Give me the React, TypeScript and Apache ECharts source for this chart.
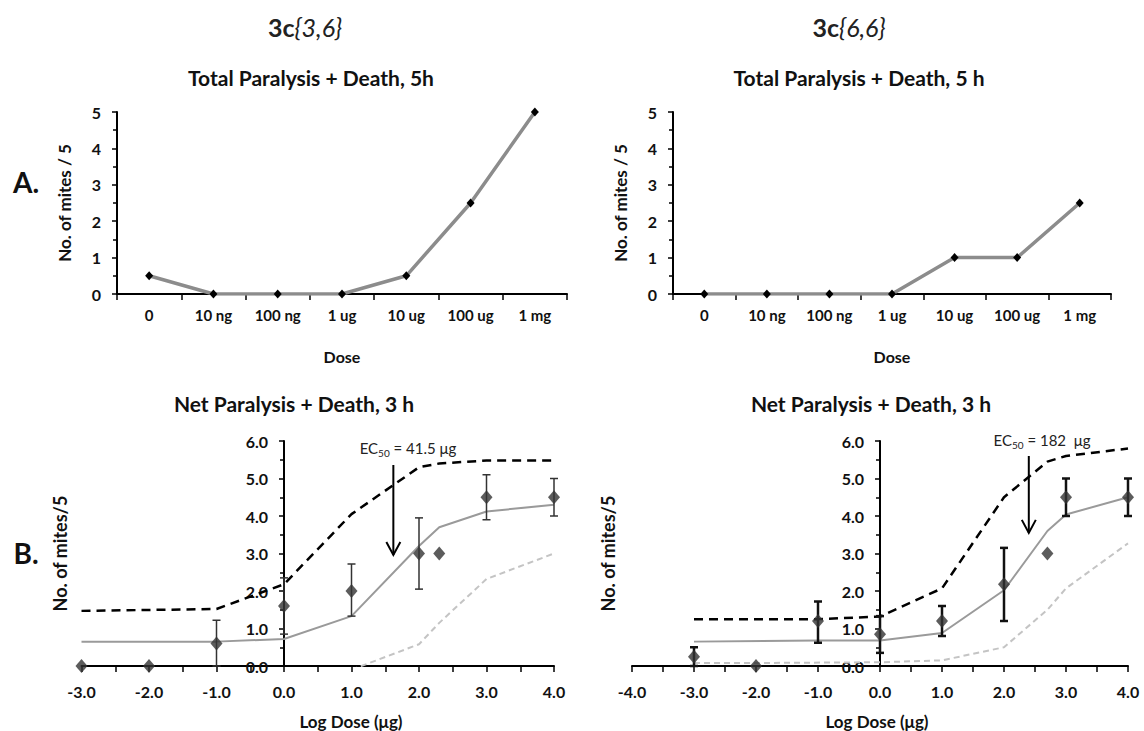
import React, { useEffect, useRef } from 'react';
import * as echarts from 'echarts';

const FONT = 'Lato, "Open Sans", sans-serif';

// ---- Panel A (total paralysis + death, 5 h) ----
const doseCategories = ['0', '10 ng', '100 ng', '1 ug', '10 ug', '100 ug', '1 mg'];
const total36 = [0.5, 0, 0, 0, 0.5, 2.5, 5];
const total66 = [0, 0, 0, 0, 1, 1, 2.5];

// ---- Panel B, 3c{3,6} (net paralysis + death, 3 h) ----
const obs36 = [[-3, 0], [-2, 0], [-1, 0.6], [0, 1.6], [1, 2.0], [2, 3.0], [2.3, 3.0], [3, 4.5], [4, 4.5]];
const err36 = [[-1, 0.6, 0, 1.22], [0, 1.6, 0.85, 2.35], [1, 2.0, 1.33, 2.72], [2, 3.0, 2.05, 3.95], [3, 4.5, 3.9, 5.1], [4, 4.5, 4.0, 5.0]];
const fit36 = [[-3, 0.65], [-1, 0.65], [0, 0.72], [1, 1.33], [2, 3.2], [2.3, 3.7], [3, 4.12], [4, 4.3]];
const upper36 = [[-3, 1.47], [-1, 1.52], [0, 2.18], [1, 4.05], [2, 5.3], [2.3, 5.4], [3, 5.48], [4, 5.48]];
const lower36 = [[1, -0.1], [2, 0.58], [2.3, 1.15], [3, 2.32], [4, 3.0]];
const arrow36 = [[1.62, 5.36, 2.96]];

// ---- Panel B, 3c{6,6} ----
const obs66 = [[-3, 0.25], [-2, 0], [-1, 1.2], [0, 0.85], [1, 1.2], [2, 2.18], [2.7, 3.0], [3, 4.5], [4, 4.5]];
const err66 = [[-3, 0.25, 0, 0.5], [-1, 1.2, 0.62, 1.72], [0, 0.85, 0.35, 1.33], [1, 1.2, 0.8, 1.6], [2, 2.18, 1.2, 3.15], [3, 4.5, 4.0, 5.0], [4, 4.5, 4.0, 5.0]];
const fit66 = [[-3, 0.65], [-1, 0.68], [0, 0.68], [1, 0.88], [2, 2.02], [2.7, 3.6], [3, 4.04], [4, 4.5]];
const upper66 = [[-3, 1.25], [-1, 1.25], [0, 1.32], [1, 2.07], [2, 4.5], [2.7, 5.45], [3, 5.6], [4, 5.8]];
const lower66 = [[-3, 0.08], [-2, 0.08], [0, 0.1], [1, 0.15], [2, 0.5], [2.7, 1.5], [3, 2.07], [4, 3.27]];
const arrow66 = [[2.4, 5.6, 3.55]];

const axisLine = { show: true, onZero: false, lineStyle: { color: '#000', width: 2 } };
const tickLine = { color: '#000', width: 1.5 };

function errorBars(data: number[][], xi: number, color: string, width: number) {
  return {
    type: 'custom',
    xAxisIndex: xi,
    yAxisIndex: xi,
    data,
    z: 4,
    renderItem: (_p: any, api: any) => {
      const x = api.value(0);
      const lo = api.coord([x, api.value(2)]);
      const hi = api.coord([x, api.value(3)]);
      const c = 4;
      const st = { stroke: color, lineWidth: width };
      return {
        type: 'group',
        children: [
          { type: 'line', shape: { x1: lo[0], y1: lo[1], x2: hi[0], y2: hi[1] }, style: st },
          { type: 'line', shape: { x1: lo[0] - c, y1: lo[1], x2: lo[0] + c, y2: lo[1] }, style: st },
          { type: 'line', shape: { x1: hi[0] - c, y1: hi[1], x2: hi[0] + c, y2: hi[1] }, style: st },
        ],
      };
    },
  };
}

function arrow(data: number[][], xi: number) {
  return {
    type: 'custom',
    xAxisIndex: xi,
    yAxisIndex: xi,
    data,
    z: 6,
    renderItem: (_p: any, api: any) => {
      const x = api.value(0);
      const top = api.coord([x, api.value(1)]);
      const tip = api.coord([x, api.value(2)]);
      const st = { stroke: '#000', lineWidth: 2, fill: null };
      return {
        type: 'group',
        children: [
          { type: 'line', shape: { x1: top[0], y1: top[1], x2: tip[0], y2: tip[1] }, style: st },
          { type: 'polyline', shape: { points: [[tip[0] - 7, tip[1] - 13], [tip[0], tip[1]], [tip[0] + 7, tip[1] - 13]] }, style: st },
        ],
      };
    },
  };
}

function curve(data: number[][], xi: number, color: string, width: number, type: any) {
  return {
    type: 'line',
    xAxisIndex: xi,
    yAxisIndex: xi,
    data,
    showSymbol: false,
    symbol: 'none',
    z: 2,
    lineStyle: { color, width, type },
  };
}

function diamonds(data: number[][], xi: number) {
  return {
    type: 'scatter',
    xAxisIndex: xi,
    yAxisIndex: xi,
    data,
    symbol: 'diamond',
    symbolSize: [12, 14],
    itemStyle: { color: '#333' },
    z: 5,
  };
}

function topAxisX(gi: number) {
  return {
    gridIndex: gi,
    type: 'category',
    data: doseCategories,
    boundaryGap: true,
    axisLine,
    axisTick: { show: true, length: 6, lineStyle: tickLine },
    axisLabel: { color: '#111', fontWeight: 'bold', fontSize: 15, fontFamily: FONT, margin: 13, interval: 0, hideOverlap: false },
    splitLine: { show: false },
    name: 'Dose',
    nameLocation: 'middle',
    nameGap: 54,
    nameMoveOverlap: false,
    nameTextStyle: { color: '#111', fontWeight: 'bold', fontSize: 16, fontFamily: FONT },
  };
}

function topAxisY(gi: number) {
  return {
    gridIndex: gi,
    type: 'value',
    min: 0,
    max: 5,
    interval: 1,
    axisLine,
    axisTick: { show: true, length: 5, lineStyle: tickLine },
    minorTick: { show: true, splitNumber: 2, length: 4, lineStyle: tickLine },
    axisLabel: { color: '#111', fontWeight: 'bold', fontSize: 16, fontFamily: FONT, margin: 16 },
    splitLine: { show: false },
    minorSplitLine: { show: false },
    name: 'No. of mites / 5',
    nameLocation: 'middle',
    nameRotate: 90,
    nameGap: 44,
    nameMoveOverlap: false,
    nameTextStyle: { color: '#111', fontWeight: 'bold', fontSize: 17, fontFamily: FONT },
  };
}

function botAxisX(gi: number, min: number) {
  return {
    gridIndex: gi,
    type: 'value',
    min,
    max: 4,
    interval: 1,
    axisLine,
    axisTick: { show: true, length: 6, lineStyle: tickLine },
    minorTick: { show: true, splitNumber: 2, length: 6, lineStyle: tickLine },
    axisLabel: { color: '#111', fontWeight: 'bold', fontSize: 16, fontFamily: FONT, margin: 17, formatter: (v: number) => v.toFixed(1) },
    splitLine: { show: false },
    minorSplitLine: { show: false },
  };
}

function botAxisY(gi: number, offset: number, gap: number) {
  return {
    gridIndex: gi,
    type: 'value',
    position: 'left',
    offset,
    min: 0,
    max: 6,
    interval: 1,
    axisLine,
    axisTick: { show: true, length: 5, lineStyle: tickLine },
    minorTick: { show: true, splitNumber: 2, length: 4, lineStyle: tickLine },
    axisLabel: { color: '#111', fontWeight: 'bold', fontSize: 16, fontFamily: FONT, margin: 16, formatter: (v: number) => v.toFixed(1) },
    splitLine: { show: false },
    minorSplitLine: { show: false },
    name: 'No. of mites/5',
    nameLocation: 'middle',
    nameRotate: 90,
    nameGap: gap,
    nameMoveOverlap: false,
    nameTextStyle: { color: '#111', fontWeight: 'bold', fontSize: 18, fontFamily: FONT },
  };
}

function txt(x: number, y: number, text: string, size: number, weight: string) {
  return {
    type: 'text',
    x,
    y,
    style: {
      text,
      fill: '#111',
      font: `${weight} ${size}px ${FONT}`,
      textAlign: 'center',
      textVerticalAlign: 'middle',
    },
  };
}

function titleRich(x: number, y: number, inner: string) {
  return {
    type: 'text',
    x,
    y,
    style: {
      text: `{b|3c}${inner}`,
      fill: '#222',
      font: `italic normal 25px ${FONT}`,
      textAlign: 'center',
      textVerticalAlign: 'middle',
      rich: {
        b: { fontWeight: 'bold', fontStyle: 'normal', fontSize: 25, fontFamily: FONT, fill: '#222' },
      },
    },
  };
}

function ecText(x: number, y: number, value: string) {
  return {
    type: 'text',
    x,
    y,
    style: {
      text: `{a|EC}{s|50}{a| = ${value}}`,
      textAlign: 'center',
      textVerticalAlign: 'middle',
      rich: {
        a: { fontSize: 15, fontFamily: FONT, fill: '#222', lineHeight: 18, verticalAlign: 'bottom' },
        s: { fontSize: 10, fontFamily: FONT, fill: '#222', lineHeight: 18, verticalAlign: 'bottom', padding: [0, 0, -3, 0] },
      },
    },
  };
}

export default function App() {
  const ref = useRef<HTMLDivElement>(null);
  useEffect(() => {
    if (!ref.current) return;
    const chart = echarts.init(ref.current, null, { renderer: 'svg' });
    const option: any = {
      animation: false,
      backgroundColor: '#fff',
      grid: [
        { left: 117, top: 112, width: 450, height: 182, outerBoundsMode: 'none' },
        { left: 673, top: 112, width: 438, height: 182, outerBoundsMode: 'none' },
        { left: 81.5, top: 441, width: 472.5, height: 225, outerBoundsMode: 'none' },
        { left: 632, top: 441, width: 496, height: 225, outerBoundsMode: 'none' },
      ],
      xAxis: [topAxisX(0), topAxisX(1), botAxisX(2, -3), botAxisX(3, -4)],
      yAxis: [topAxisY(0), topAxisY(1), botAxisY(2, -202.5, 215), botAxisY(3, -248, 263)],
      series: [
        {
          type: 'line', xAxisIndex: 0, yAxisIndex: 0, data: total36,
          symbol: 'diamond', symbolSize: [8, 9], showSymbol: true,
          itemStyle: { color: '#000' }, lineStyle: { color: '#8c8c8c', width: 3.5 },
        },
        {
          type: 'line', xAxisIndex: 1, yAxisIndex: 1, data: total66,
          symbol: 'diamond', symbolSize: [8, 9], showSymbol: true,
          itemStyle: { color: '#000' }, lineStyle: { color: '#8c8c8c', width: 3.5 },
        },
        curve(upper36, 2, '#000', 2.5, [9, 6]),
        curve(lower36, 2, '#c4c4c4', 2, [6, 4]),
        curve(fit36, 2, '#9a9a9a', 2, 'solid'),
        errorBars(err36, 2, '#333', 1.5),
        diamonds(obs36, 2),
        arrow(arrow36, 2),
        curve(upper66, 3, '#000', 2.5, [9, 6]),
        curve(lower66, 3, '#c4c4c4', 2, [6, 4]),
        curve(fit66, 3, '#9a9a9a', 2, 'solid'),
        errorBars(err66, 3, '#111', 2.5),
        diamonds(obs66, 3),
        arrow(arrow66, 3),
      ],
      graphic: [
        titleRich(305, 27, '{3,6}'),
        titleRich(849, 27, '{6,6}'),
        txt(311, 77, 'Total Paralysis + Death, 5h', 21, 'bold'),
        txt(859, 77, 'Total Paralysis + Death, 5 h', 21, 'bold'),
        txt(294, 403, 'Net Paralysis + Death, 3 h', 21, 'bold'),
        txt(871, 403, 'Net Paralysis + Death, 3 h', 21, 'bold'),
        txt(351, 721, 'Log Dose (μg)', 17, 'bold'),
        txt(877, 721, 'Log Dose (μg)', 17, 'bold'),
        txt(26, 182, 'A.', 28, 'bold'),
        txt(26, 553, 'B.', 28, 'bold'),
        ecText(408, 446, '41.5 μg'),
        ecText(1042, 438, '182  μg'),
      ],
    };
    chart.setOption(option);
    return () => chart.dispose();
  }, []);
  return (
    <div
      ref={ref}
      style={{ position: 'fixed', left: 0, top: 0, width: 1144, height: 731, background: '#fff' }}
    />
  );
}
